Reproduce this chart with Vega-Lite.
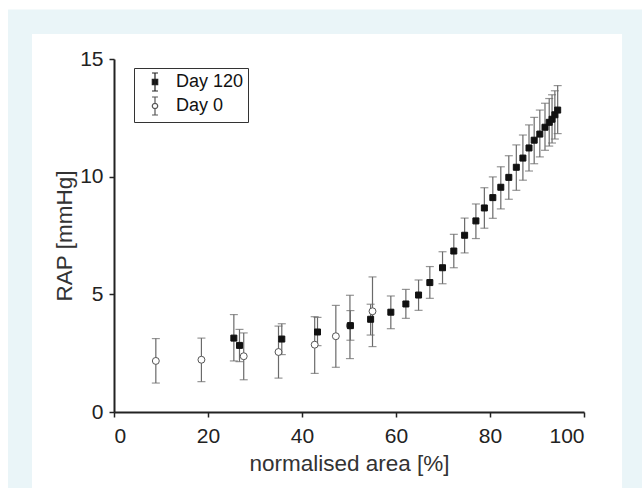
{
  "$schema": "https://vega.github.io/schema/vega-lite/v6.json",
  "width": 470,
  "height": 353,
  "autosize": {"type": "none"},
  "padding": {"left": 114, "top": 59, "right": 58, "bottom": 76},
  "background": "white",
  "config": {
    "view": {"stroke": null},
    "font": "Liberation Sans",
    "axis": {
      "grid": false,
      "domainColor": "#222222",
      "domainWidth": 2,
      "tickColor": "#222222",
      "tickWidth": 1.5,
      "tickSize": 5,
      "labelFont": "Liberation Sans",
      "labelFontSize": 21,
      "labelColor": "#222222",
      "titleFont": "Liberation Sans",
      "titleFontSize": 22.5,
      "titleFontWeight": "normal",
      "titleColor": "#333333"
    },
    "legend": {
      "title": null,
      "orient": "none",
      "legendX": 20,
      "legendY": 9,
      "padding": 4,
      "symbolOffset": 7,
      "symbolSize": 324,
      "labelFont": "Liberation Sans",
      "labelFontSize": 18,
      "labelColor": "#111111",
      "labelOffset": 11,
      "rowPadding": 0,
      "strokeColor": "#333333",
      "fillColor": "#ffffff"
    }
  },
  "datasets": {
    "pts": [
      {"series": "Day 0", "x": 8.9, "y": 2.17, "lo": 1.23, "hi": 3.12},
      {"series": "Day 0", "x": 18.6, "y": 2.22, "lo": 1.29, "hi": 3.14},
      {"series": "Day 0", "x": 27.6, "y": 2.37, "lo": 1.37, "hi": 3.36},
      {"series": "Day 0", "x": 35.0, "y": 2.55, "lo": 1.44, "hi": 3.65},
      {"series": "Day 0", "x": 42.7, "y": 2.86, "lo": 1.64, "hi": 4.05},
      {"series": "Day 0", "x": 47.2, "y": 3.22, "lo": 1.9, "hi": 4.53},
      {"series": "Day 0", "x": 50.2, "y": 3.67, "lo": 2.27, "hi": 4.96},
      {"series": "Day 0", "x": 55.0, "y": 4.28, "lo": 2.78, "hi": 5.74},
      {"series": "Day 120", "x": 25.5, "y": 3.14, "lo": 2.17, "hi": 4.14},
      {"series": "Day 120", "x": 26.7, "y": 2.83, "lo": 2.14, "hi": 3.51},
      {"series": "Day 120", "x": 35.7, "y": 3.1, "lo": 2.44, "hi": 3.75},
      {"series": "Day 120", "x": 43.3, "y": 3.4, "lo": 2.82, "hi": 4.02},
      {"series": "Day 120", "x": 50.3, "y": 3.67, "lo": 3.05, "hi": 4.31},
      {"series": "Day 120", "x": 54.6, "y": 3.94, "lo": 3.27, "hi": 4.58},
      {"series": "Day 120", "x": 58.9, "y": 4.24, "lo": 3.54, "hi": 4.93},
      {"series": "Day 120", "x": 62.1, "y": 4.59, "lo": 3.98, "hi": 5.21},
      {"series": "Day 120", "x": 64.8, "y": 4.97, "lo": 4.32, "hi": 5.61},
      {"series": "Day 120", "x": 67.2, "y": 5.5, "lo": 4.83, "hi": 6.18},
      {"series": "Day 120", "x": 69.9, "y": 6.13, "lo": 5.45, "hi": 6.81},
      {"series": "Day 120", "x": 72.3, "y": 6.84, "lo": 6.13, "hi": 7.55},
      {"series": "Day 120", "x": 74.6, "y": 7.51, "lo": 6.76, "hi": 8.24},
      {"series": "Day 120", "x": 77.0, "y": 8.12, "lo": 7.37, "hi": 8.84},
      {"series": "Day 120", "x": 78.8, "y": 8.67, "lo": 7.81, "hi": 9.53},
      {"series": "Day 120", "x": 80.6, "y": 9.11, "lo": 8.23, "hi": 9.99},
      {"series": "Day 120", "x": 82.3, "y": 9.55, "lo": 8.63, "hi": 10.42},
      {"series": "Day 120", "x": 84.0, "y": 9.97, "lo": 9.04, "hi": 10.89},
      {"series": "Day 120", "x": 85.6, "y": 10.4, "lo": 9.42, "hi": 11.35},
      {"series": "Day 120", "x": 87.0, "y": 10.79, "lo": 9.85, "hi": 11.77},
      {"series": "Day 120", "x": 88.3, "y": 11.22, "lo": 10.24, "hi": 12.2},
      {"series": "Day 120", "x": 89.4, "y": 11.55, "lo": 10.55, "hi": 12.52},
      {"series": "Day 120", "x": 90.6, "y": 11.81, "lo": 10.84, "hi": 12.83},
      {"series": "Day 120", "x": 91.7, "y": 12.1, "lo": 11.12, "hi": 13.12},
      {"series": "Day 120", "x": 92.6, "y": 12.31, "lo": 11.3, "hi": 13.32},
      {"series": "Day 120", "x": 93.2, "y": 12.44, "lo": 11.43, "hi": 13.48},
      {"series": "Day 120", "x": 93.8, "y": 12.63, "lo": 11.6, "hi": 13.65},
      {"series": "Day 120", "x": 94.4, "y": 12.83, "lo": 11.83, "hi": 13.87}
    ]
  },
  "layer": [
    {
      "data": {"values": [{}]},
      "mark": {"type": "rect", "color": "#eaf5f8", "clip": false},
      "encoding": {
        "x": {
          "datum": -22.55, "type": "quantitative",
          "scale": {"domain": [0, 100], "nice": false},
          "axis": {"zindex": 2, "values": [0, 20, 40, 60, 80, 100], "title": "normalised area [%]", "labelPadding": 8, "titlePadding": 6}
        },
        "x2": {"datum": 112.6},
        "y": {
          "datum": 17.1, "type": "quantitative",
          "scale": {"domain": [0, 15], "nice": false},
          "axis": {"zindex": 2, "values": [0, 5, 10, 15], "title": "RAP [mmHg]", "labelPadding": 6, "titlePadding": 3}
        },
        "y2": {"datum": -3.4}
      }
    },
    {
      "data": {"values": [{}]},
      "mark": {"type": "rect", "color": "#ffffff", "clip": false},
      "encoding": {
        "x": {"datum": -17.45, "type": "quantitative"},
        "x2": {"datum": 108.1},
        "y": {"datum": 16.06, "type": "quantitative"},
        "y2": {"datum": -3.4}
      }
    },
    {
      "data": {"name": "pts"},
      "mark": {"type": "errorbar", "ticks": true, "color": "#6a6a6a", "thickness": 1.2, "size": 8},
      "encoding": {
        "x": {
          "field": "x", "type": "quantitative",
          "axis": {"zindex": 2, "values": [0, 20, 40, 60, 80, 100], "title": "normalised area [%]", "labelPadding": 8, "titlePadding": 6}
        },
        "y": {
          "field": "lo", "type": "quantitative",
          "axis": {"zindex": 2, "values": [0, 5, 10, 15], "title": "RAP [mmHg]", "labelPadding": 6, "titlePadding": 3}
        },
        "y2": {"field": "hi"}
      }
    },
    {
      "data": {"name": "pts"},
      "transform": [{"filter": "datum.series === 'Day 0'"}],
      "mark": {"type": "point", "shape": "circle", "filled": true, "size": 48, "stroke": "#555555", "strokeWidth": 1, "opacity": 1},
      "encoding": {
        "x": {"field": "x", "type": "quantitative"},
        "y": {"field": "y", "type": "quantitative"},
        "fill": {
          "field": "series", "type": "nominal",
          "scale": {"domain": ["Day 120", "Day 0"], "range": ["#111111", "#ffffff"]},
          "legend": {
            "symbolType": {"expr": "datum.value === 'Day 120' ? 'M-0.33,-1H0.33M0,-1V1M-0.33,1H0.33M-0.3,-0.3H0.3V0.3H-0.3Z' : 'M-0.33,-1H0.33M0,-1V-0.3M0,0.3V1M-0.33,1H0.33M0.3,0A0.3,0.3 0 1,1 -0.3,0A0.3,0.3 0 1,1 0.3,0Z'"},
            "symbolStrokeColor": {"expr": "datum.value === 'Day 120' ? '#222222' : '#555555'"},
            "symbolStrokeWidth": 1.2
          }
        }
      }
    },
    {
      "data": {"name": "pts"},
      "transform": [{"filter": "datum.series === 'Day 120'"}],
      "mark": {"type": "point", "shape": "square", "filled": true, "size": 36, "stroke": "#111111", "strokeWidth": 1, "opacity": 1},
      "encoding": {
        "x": {"field": "x", "type": "quantitative"},
        "y": {"field": "y", "type": "quantitative"},
        "fill": {
          "field": "series", "type": "nominal",
          "scale": {"domain": ["Day 120", "Day 0"], "range": ["#111111", "#ffffff"]}
        }
      }
    }
  ]
}
